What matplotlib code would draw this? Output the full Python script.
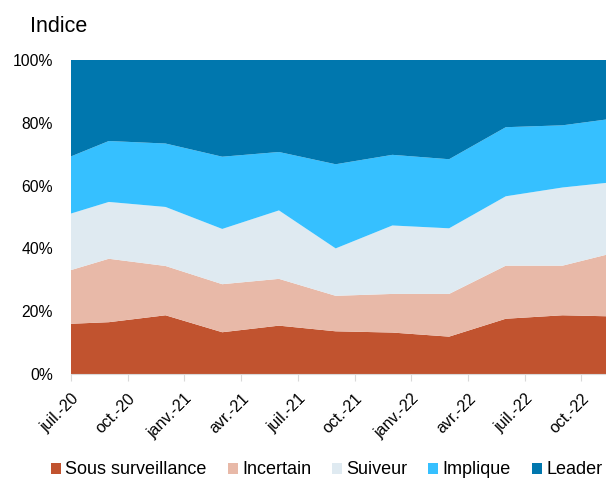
import matplotlib
matplotlib.use("Agg")
import matplotlib.pyplot as plt
from matplotlib.ticker import FuncFormatter
from matplotlib.patches import Patch

plt.rcParams['font.family'] = ['Liberation Sans', 'DejaVu Sans']

# months since July 2020
months = [0, 2, 5, 8, 11, 14, 17, 20, 23, 26, 29]
sous_surveillance = [16.0, 16.5, 18.7, 13.3, 15.4, 13.6, 13.2, 11.9, 17.6, 18.7, 18.3]
incertain = [17.1, 20.2, 15.7, 15.3, 14.9, 11.3, 12.3, 13.6, 16.9, 15.8, 20.7]
suiveur = [18.0, 18.1, 18.8, 17.6, 21.8, 15.1, 21.8, 20.9, 22.1, 24.9, 22.3]
implique = [18.2, 19.4, 20.2, 23.0, 18.6, 26.8, 22.5, 22.0, 22.0, 19.8, 20.3]
leader = [30.7, 25.8, 26.6, 30.8, 29.3, 33.2, 30.2, 31.6, 21.4, 20.8, 18.4]

series_names = ["Sous surveillance", "Incertain", "Suiveur", "Implique", "Leader"]
colors = ["#C1532F", "#E8B9A8", "#DFEAF1", "#36C0FF", "#0077AE"]

tick_months = [0, 3, 6, 9, 12, 15, 18, 21, 24, 27]
tick_labels = ["juil.-20", "oct.-20", "janv.-21", "avr.-21", "juil.-21",
               "oct.-21", "janv.-22", "avr.-22", "juil.-22", "oct.-22"]

W, H = 606, 482
fig = plt.figure(figsize=(W / 100, H / 100), dpi=100)
ax = fig.add_axes([71 / W, 1 - 374 / H, (606 - 71) / W, (374 - 60) / H])

ax.stackplot(months, sous_surveillance, incertain, suiveur, implique, leader,
             colors=colors, linewidth=0)

ax.set_xlim(0, 28.3)
ax.set_ylim(0, 100)
ax.set_yticks([0, 20, 40, 60, 80, 100])
ax.yaxis.set_major_formatter(FuncFormatter(lambda v, p: f"{int(v)}%"))
ax.tick_params(axis='y', length=0, labelsize=11.3, pad=13)

ax.set_xticks(tick_months)
ax.set_xticklabels(tick_labels, rotation=45, ha='right', rotation_mode='anchor')
ax.tick_params(axis='x', length=5, color="#D9D9D9", labelsize=11.5, pad=7)

for s in ['top', 'right', 'left']:
    ax.spines[s].set_visible(False)
ax.spines['bottom'].set_color("#D9D9D9")
ax.spines['bottom'].set_zorder(5)

fig.text(30 / W, 1 - 27 / H, "Indice", fontsize=15.5, va='center', ha='left')

handles = [Patch(facecolor=c, edgecolor='none') for c in colors]
fig.legend(handles, series_names, loc='center left', ncol=5,
           bbox_to_anchor=(51 / W, 1 - 470 / H), frameon=False,
           fontsize=13, handlelength=0.55, handleheight=0.55,
           handletextpad=0.25, columnspacing=1.15, borderpad=0, borderaxespad=0)

fig.savefig("out.png", dpi=100)
